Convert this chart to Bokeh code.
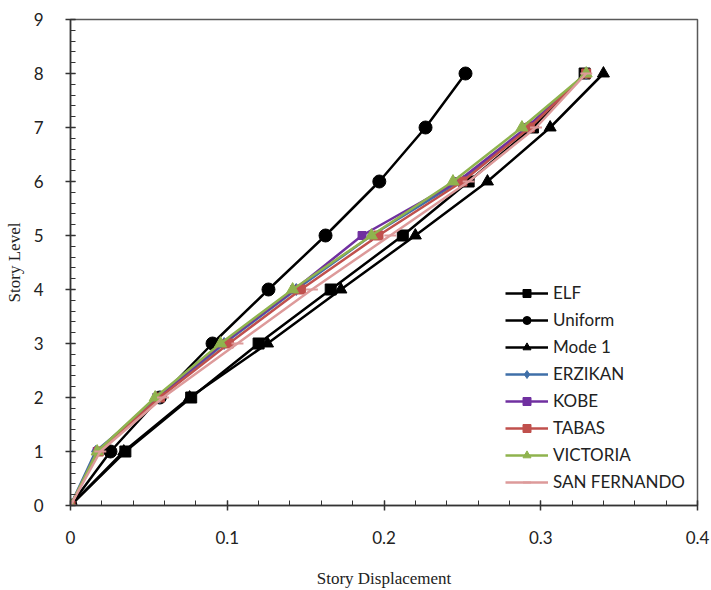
from bokeh.plotting import figure
from bokeh.models import Legend, LegendItem, Range1d, FixedTicker
from bokeh.embed import file_html
from bokeh.resources import INLINE

levels = [0, 1, 2, 3, 4, 5, 6, 7, 8]
elf = [0, 0.035, 0.077, 0.120, 0.166, 0.212, 0.254, 0.295, 0.328]
uniform = [0, 0.0255, 0.057, 0.0906, 0.1263, 0.1627, 0.197, 0.2265, 0.252]
mode1 = [0, 0.034, 0.076, 0.1257, 0.1725, 0.220, 0.266, 0.306, 0.340]
erzikan = [0, 0.016, 0.057, 0.098, 0.144, 0.192, 0.248, 0.292, 0.329]
kobe = [0, 0.017, 0.055, 0.097, 0.143, 0.186, 0.247, 0.291, 0.329]
tabas = [0, 0.018, 0.057, 0.101, 0.147, 0.1965, 0.250, 0.293, 0.329]
victoria = [0, 0.017, 0.054, 0.0957, 0.1417, 0.192, 0.244, 0.288, 0.329]
san_fernando = [0, 0.019, 0.059, 0.1065, 0.154, 0.204, 0.254, 0.297, 0.329]

x_ticks = [0, 0.1, 0.2, 0.3, 0.4]
y_ticks = [0, 1, 2, 3, 4, 5, 6, 7, 8, 9]

series = [
    ("ELF", elf, "black", "square", 11, 2.5),
    ("Uniform", uniform, "black", "circle", 13, 2.5),
    ("Mode 1", mode1, "black", "triangle", 12, 2.5),
    ("ERZIKAN", erzikan, "#3F6FA8", "diamond", 12, 2.5),
    ("KOBE", kobe, "#7030A0", "square", 8, 2.5),
    ("TABAS", tabas, "#C0504D", "square", 9, 2.5),
    ("VICTORIA", victoria, "#8FB34E", "triangle", 12, 2.5),
    ("SAN FERNANDO", san_fernando, "#DD9A9A", "dash", 12, 2.5),
]

p = figure(width=711, height=590, output_backend="svg", toolbar_location=None,
           x_range=Range1d(0, 0.4), y_range=Range1d(0, 9),
           min_border_left=70, min_border_right=14, min_border_top=19, min_border_bottom=84)
p.grid.visible = False
p.outline_line_color = "#595959"
p.outline_line_width = 1.5
p.background_fill_color = "white"
p.border_fill_color = "white"

items = []
for name, xs, col, mk, sz, lw in series:
    r1 = p.line(xs, levels, line_color=col, line_width=lw)
    r2 = p.scatter(xs, levels, marker=mk, size=sz, fill_color=col, line_color=col,
                   line_width=2 if mk == "dash" else 1)
    items.append(LegendItem(label=name, renderers=[r1, r2]))

legend = Legend(items=items, location=(435, 13), border_line_color=None,
                background_fill_alpha=0, padding=0, margin=0,
                glyph_width=43, glyph_height=20, label_height=20, spacing=6,
                label_standoff=5, label_text_font="Lato",
                label_text_font_size="17px", label_text_color="#222222")
p.add_layout(legend, "center")

for ax in (p.xaxis[0], p.yaxis[0]):
    ax.axis_line_color = "#333333"
    ax.axis_line_width = 1.5
    ax.major_tick_line_color = "#333333"
    ax.minor_tick_line_color = "#333333"
    ax.major_tick_line_width = 1.5
    ax.major_tick_in = 5
    ax.major_tick_out = 5
    ax.minor_tick_in = 5
    ax.minor_tick_out = 0
    ax.major_label_text_font = "Lato"
    ax.major_label_text_font_size = "17px"
    ax.major_label_text_color = "#222222"
    ax.axis_label_text_font = "Liberation Serif"
    ax.axis_label_text_font_size = "17px"
    ax.axis_label_text_font_style = "normal"
    ax.axis_label_text_color = "#222222"

p.xaxis[0].ticker = FixedTicker(ticks=x_ticks, minor_ticks=[i * 0.02 for i in range(21)])
p.yaxis[0].ticker = FixedTicker(ticks=y_ticks, minor_ticks=[i * 0.2 for i in range(46)])
p.xaxis[0].major_label_overrides = {0: "0", 0.1: "0.1", 0.2: "0.2", 0.3: "0.3", 0.4: "0.4"}
p.xaxis[0].major_label_standoff = 20
p.yaxis[0].major_label_standoff = 22
p.xaxis[0].axis_label = "Story Displacement"
p.yaxis[0].axis_label = "Story Level"
p.xaxis[0].axis_label_standoff = 22
p.yaxis[0].axis_label_standoff = 7

open("out.html", "w").write(file_html(p, INLINE))
